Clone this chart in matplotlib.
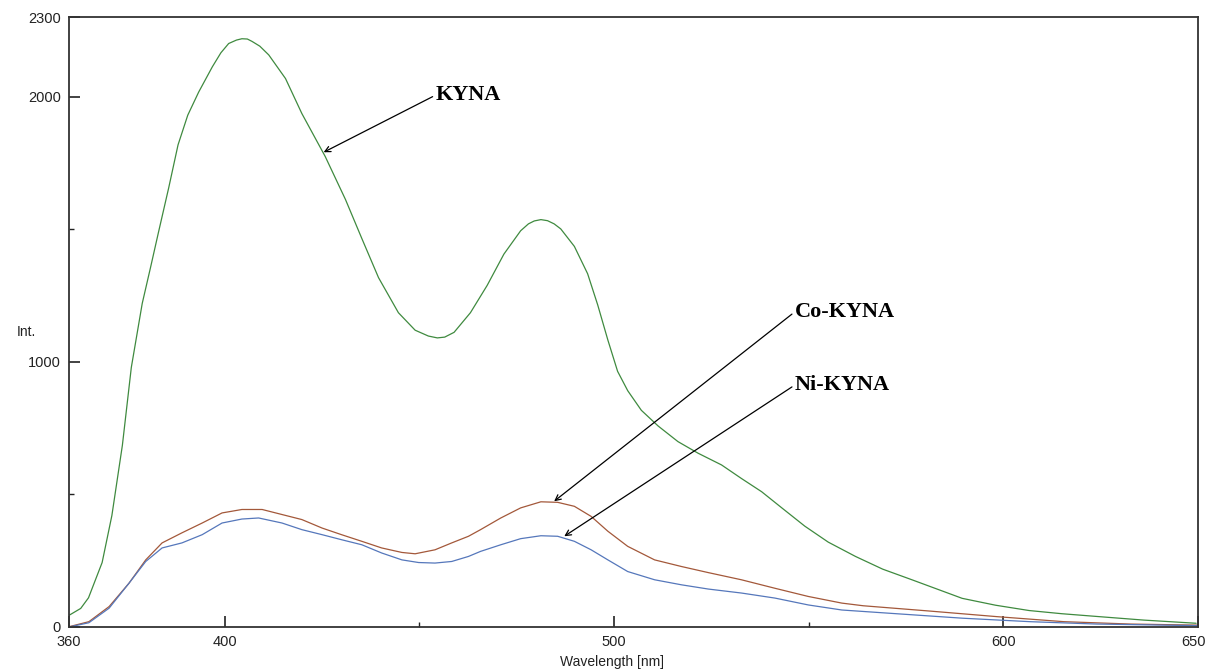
import matplotlib
matplotlib.use("Agg")
import matplotlib.pyplot as plt
from matplotlib.ticker import FixedLocator
from matplotlib.transforms import ScaledTranslation

# Data (wavelength nm, intensity)
kyna_wl = [360, 363, 365, 368.5, 371, 373.7, 376, 378.8, 381, 383, 385.6, 388, 390.5, 393.3,
           396.8, 399, 401, 403, 404.4, 405.8, 407, 409, 411.3, 415.6, 419.8, 425.8, 431,
           435.2, 439.5, 444.6, 448.9, 452.3, 454.6, 456.5, 458.9, 463.1, 467.4, 471.7,
           476, 478, 479.5, 481.2, 482.9, 484.6, 486.3, 489.8, 493.2, 495.8, 498.4,
           500.9, 503.5, 507, 511.3, 516.4, 521.6, 527.6, 532.7, 537.9, 543, 549, 555,
           562, 569, 576.5, 589.4, 598, 606.6, 615, 623.7, 636, 649.5]
kyna_int = [44, 70, 110, 243, 420, 685, 979, 1220, 1360, 1490, 1656, 1818, 1930, 2017,
            2112, 2165, 2200, 2213, 2218, 2217, 2208, 2190, 2157, 2068, 1936, 1774, 1612,
            1465, 1317, 1185, 1119, 1097, 1090, 1093, 1111, 1185, 1288, 1406,
            1494, 1520, 1531, 1536, 1532, 1520, 1501, 1435, 1332, 1214, 1082,
            964, 891, 817, 758, 699, 655, 611, 560, 510, 450, 380, 320,
            266, 218, 178, 108, 82, 62, 50, 40, 26, 14]

co_wl = [360, 365.1, 370.3, 375.4, 379.7, 383.9, 389, 394.2, 399.3, 404.4, 409.6, 414.7,
         419.8, 425, 430, 435.2, 440.3, 445.5, 448.9, 454, 458.3, 462.6, 465.7, 470.9,
         476, 481.2, 485.5, 489.8, 494.1, 498.4, 503.5, 510.4, 517.3, 524.2, 532.7,
         541.3, 549.9, 558.5, 564, 581.1, 598.3, 615.5, 632.7, 649.9]
co_int = [1, 20, 77, 165, 253, 317, 355, 392, 430, 443, 443, 424,
          405, 373, 348, 323, 298, 281, 276, 291, 317, 342, 367, 411,
          449, 472, 470, 455, 417, 361, 304, 253, 228, 205, 178,
          146, 115, 90, 80, 60, 39, 20, 11, 7]

ni_wl = [360, 365.1, 370.3, 375.4, 379.7, 383.9, 389, 394.2, 399.3, 404.4, 408.7, 414.7,
         419.8, 425, 430, 435.2, 440.3, 445.5, 449.8, 454, 458.3, 462.6, 465.7, 470.9,
         476, 481.2, 485.5, 489.8, 494.1, 498.4, 503.5, 510.4, 517.3, 524.2, 532.7,
         541.3, 549.9, 558.5, 572.5, 589.6, 606.8, 624, 649.9]
ni_int = [0, 16, 71, 165, 247, 298, 317, 348, 392, 407, 411, 392,
          367, 348, 329, 310, 279, 253, 243, 241, 247, 266, 285, 310,
          333, 344, 342, 323, 291, 253, 209, 178, 159, 143, 128,
          109, 83, 64, 50, 33, 20, 11, 5]

x_major = [360, 400, 500, 600, 650]
x_minor = [450, 550]
y_major = [0, 1000, 2000, 2300]
y_minor = [500, 1500]

fig = plt.figure(figsize=(12.07, 6.72), dpi=100)
ax = fig.add_axes([0.0572, 0.067, 0.9354, 0.9077])

line_kw = dict(lw=0.9, solid_joinstyle="round", solid_capstyle="round")
ax.plot(kyna_wl, kyna_int, color="#3f8a3f", **line_kw)
ax.plot(co_wl, co_int, color="#a3583a", **line_kw)
ax.plot(ni_wl, ni_int, color="#5577bb", **line_kw)

ax.set_xlim(360, 650)
ax.set_ylim(0, 2300)
ax.xaxis.set_major_locator(FixedLocator(x_major))
ax.xaxis.set_minor_locator(FixedLocator(x_minor))
ax.yaxis.set_major_locator(FixedLocator(y_major))
ax.yaxis.set_minor_locator(FixedLocator(y_minor))
ax.tick_params(which="major", direction="in", length=8, width=1.2, labelsize=10.5,
               colors="#222222", pad=6)
ax.tick_params(which="minor", direction="in", length=3.5, width=1.0, colors="#222222")
for lab in ax.get_xticklabels() + ax.get_yticklabels():
    lab.set_family("Liberation Sans")
# keep the last x label inside the figure, as in the reference
last = ax.get_xticklabels()[-1]
last.set_horizontalalignment("right")
last.set_transform(last.get_transform() + ScaledTranslation(8 / 100, 0, fig.dpi_scale_trans))
for s in ax.spines.values():
    s.set_color("#333333")
    s.set_linewidth(1.3)

fig.text(0.0215, 0.506, "Int.", ha="center", va="center", fontsize=10,
         family="Liberation Sans", color="#222222")
fig.text(0.507, 0.015, "Wavelength [nm]", ha="center", va="center", fontsize=10,
         family="Liberation Sans", color="#222222")

arrow = dict(arrowstyle="->", color="black", lw=0.9, shrinkA=0, shrinkB=0,
             relpos=(0, 0.5), mutation_scale=10)
font = dict(family="Liberation Serif", fontweight="bold", fontsize=16, color="black")
ax.annotate("KYNA", xy=(425.4, 1790), xytext=(454.1, 2005), ha="left", va="center",
            arrowprops=arrow, **font)
ax.annotate("Co-KYNA", xy=(484.6, 474), xytext=(546.4, 1188), ha="left", va="center",
            arrowprops=arrow, **font)
ax.annotate("Ni-KYNA", xy=(487.2, 342), xytext=(546.4, 912), ha="left", va="center",
            arrowprops=arrow, **font)

fig.savefig("out.png", dpi=100)
